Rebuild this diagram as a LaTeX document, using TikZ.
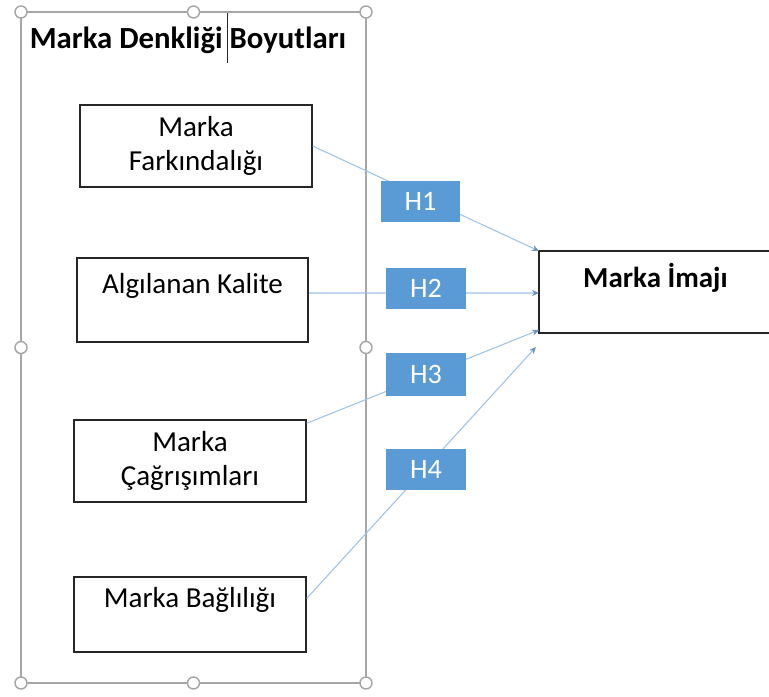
\documentclass[tikz,border=0pt]{standalone}
\usepackage{fontspec}
\setmainfont{Carlito}
\usetikzlibrary{arrows.meta, positioning, calc}
\usepackage{xcolor}
\definecolor{markablue}{HTML}{5B9BD5}
\definecolor{markaline}{HTML}{9DC3E6}
\definecolor{markaarrow}{HTML}{6F8FBF}
\definecolor{markagray}{HTML}{A6A6A6}
\definecolor{markadark}{HTML}{262626}

\tikzset{
  dimbox/.style={draw=markadark, line width=0.8pt, minimum width=4.64cm,
    minimum height=1.64cm, align=center, inner sep=0pt,
    font=\fontsize{16.5}{19.4}\selectfont},
  hbox/.style={fill=markablue, text=white, minimum width=1.6cm,
    minimum height=0.82cm, inner sep=0pt, font=\fontsize{16}{18}\selectfont},
  hline/.style={markaline, line width=0.6pt,
    -{Stealth[length=4pt, width=3.5pt, color=markaarrow]}}
}

\begin{document}
\begin{tikzpicture}[x=0.02cm, y=-0.02cm]
  \useasboundingbox (0,0) rectangle (769,697);

  % Selection frame with handles
  \draw[markagray, line width=1.1pt] (21,12) rectangle (366,683);
  \foreach \hx/\hy in {21/12, 193.5/12, 366/12, 21/347.5, 366/347.5, 21/683, 193.5/683, 366/683}
    \filldraw[draw=markagray, fill=white, line width=0.8pt] (\hx,\hy) circle (6);

  % Title and text cursor
  \node[font=\fontsize{17.5}{20}\selectfont\bfseries] (title) at (188,40) {Marka Denkliği Boyutları};
  \draw[markadark, line width=0.4pt] (227,13) -- (227,63);

  % Dimension boxes
  \node[dimbox] (fark) at (196,146) {Marka\\Farkındalığı};
  \node[dimbox, minimum width=4.62cm, minimum height=1.68cm, line width=1.2pt] (kal) at (192.5,300) {Algılanan Kalite\\\phantom{X}};
  \node[dimbox] (cag) at (190,461) {Marka\\Çağrışımları};
  \node[dimbox, minimum height=1.5cm] (bag) at (190,614.5) {Marka Bağlılığı\\\phantom{X}};

  % Brand image box
  \node[dimbox, minimum width=4.66cm, font=\fontsize{16.5}{19.4}\selectfont\bfseries] (imaj) at (655.5,292) {Marka İmajı\\\phantom{X}};

  % Arrow ends on the image box
  \coordinate (t1) at (539,251);
  \coordinate (t2) at (539,293);
  \coordinate (t3) at (539,330);
  \coordinate (t4) at (536,347);

  % Hypothesis paths
  \draw[hline] (fark.east) -- (t1);
  \draw[hline] ([yshift=0.14cm]kal.east) -- (t2);
  \draw[hline] ([yshift=-0.08cm]cag.north east) -- (t3);
  \draw[hline] ([yshift=0.32cm]bag.east) -- (t4);

  % Hypothesis labels
  \node[hbox] (h1) at (420.5,201.5) {H1};
  \node[hbox] (h2) at (426,288) {H2};
  \node[hbox, minimum height=0.86cm] (h3) at (426,374.5) {H3};
  \node[hbox] (h4) at (426,469.5) {H4};
\end{tikzpicture}
\end{document}
